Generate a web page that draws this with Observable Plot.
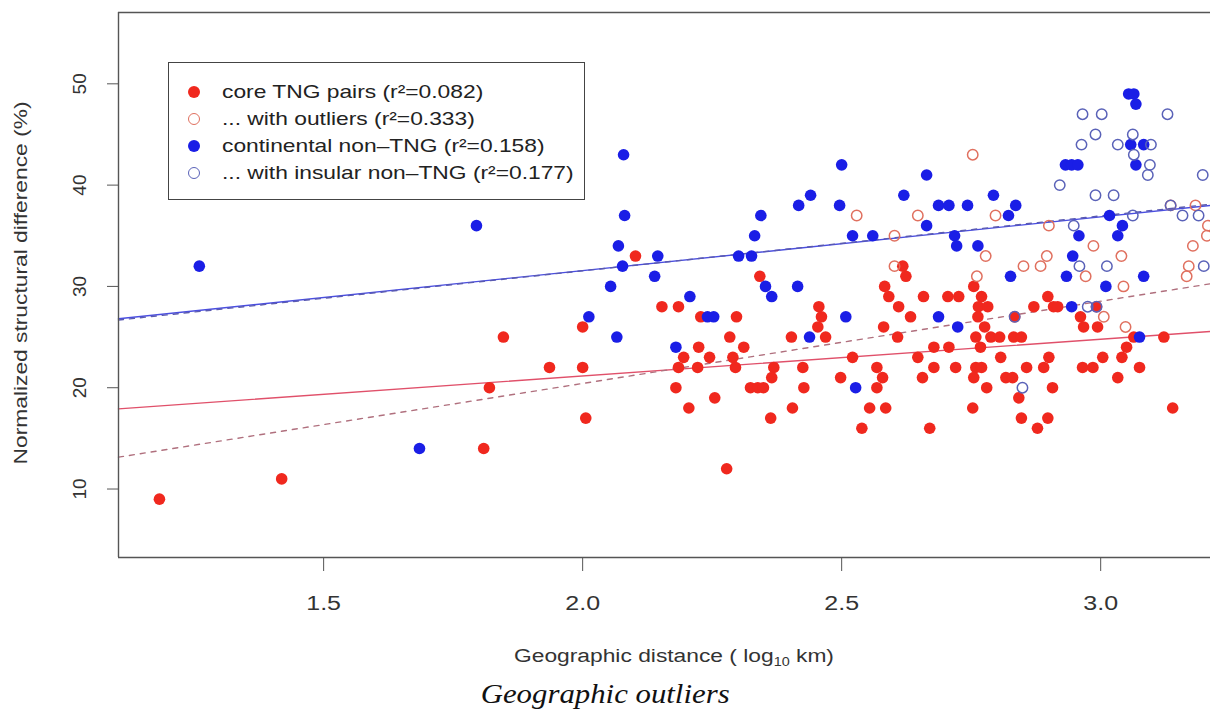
<!DOCTYPE html>
<html><head><meta charset="utf-8">
<script src="https://cdn.jsdelivr.net/npm/d3@7"></script>
<script src="https://cdn.jsdelivr.net/npm/@observablehq/plot@0.6"></script>
<style>
body{margin:0;background:#fff;font-family:"Liberation Sans",Arial,sans-serif}
#wrap{position:relative;width:1210px;height:675px}
#legend{position:absolute;left:168px;top:62px;width:417px;height:138px;border:1.3px solid #444;box-sizing:border-box;background:#fff}
.row{position:absolute;left:0;height:26px;line-height:26px;font-size:19px;color:#222;white-space:nowrap}
.sym{position:absolute;left:19px;top:7px;width:12px;height:12px;border-radius:50%;box-sizing:border-box}
.lab{position:absolute;left:53px;top:0;transform:scaleX(1.2);transform-origin:left center}
#caption{width:1210px;height:38px;line-height:38px;text-align:center;font-family:"Liberation Serif","Times New Roman",serif;font-style:italic;font-size:28px;color:#111}
#caption span{display:inline-block;transform:scaleX(1.1)}
</style></head>
<body>
<div id="wrap"></div>
<div id="caption"><span>Geographic outliers</span></div>
<script>
// ---- data (x = log10 km, y = normalized structural difference %) ----
const coreTNG = [
[1.183,9],[1.419,11],[1.809,14],[1.820,20],[1.847,25],[1.936,22],[2.000,26],[2.000,22],[2.006,17],
[2.102,33],[2.153,28],[2.185,28],[2.228,27],[2.297,27],[2.284,25],[2.311,24],[2.224,24],[2.195,23],
[2.245,23],[2.290,23],[2.185,22],[2.222,22],[2.295,22],[2.369,22],[2.365,21],[2.180,20],[2.324,20],
[2.338,20],[2.349,20],[2.255,19],[2.205,18],[2.363,17],[2.278,12],[2.342,31],[2.456,28],[2.461,27],
[2.454,26],[2.403,25],[2.469,25],[2.583,30],[2.591,29],[2.610,28],[2.633,27],[2.581,26],[2.608,25],
[2.658,29],[2.705,29],[2.726,29],[2.618,32],[2.624,31],[2.678,24],[2.707,24],[2.521,23],[2.647,23],
[2.425,22],[2.427,20],[2.405,18],[2.498,21],[2.568,22],[2.579,21],[2.568,20],[2.554,18],[2.585,18],
[2.539,16],[2.678,22],[2.656,21],[2.720,22],[2.759,22],[2.770,22],[2.755,21],[2.780,20],[2.753,18],
[2.670,16],[2.755,30],[2.770,29],[2.764,28],[2.782,28],[2.763,27],[2.776,26],[2.759,25],[2.788,25],
[2.805,25],[2.768,24],[2.832,25],[2.847,25],[2.807,23],[2.900,23],[2.890,22],[2.857,22],[2.817,21],
[2.830,21],[2.907,20],[2.842,19],[2.847,17],[2.898,17],[2.878,16],[3.004,23],[3.041,23],[2.965,22],
[2.985,22],[3.075,22],[3.033,21],[3.139,18],[3.050,24],[3.064,25],[3.122,25],[2.898,29],[2.871,28],
[2.909,28],[2.917,28],[2.961,27],[2.967,26],[2.994,26],[2.992,28],[2.834,27]
];
const coreOutliers = [
[2.753,43],[2.529,37],[2.647,37],[2.602,35],[2.778,33],[2.602,32],[2.761,31],[2.797,37],[2.900,36],
[2.986,34],[3.040,33],[3.178,34],[2.896,33],[2.884,32],[2.851,32],[3.170,32],[2.971,31],[3.166,31],
[3.044,30],[3.006,27],[3.048,26],[3.135,38],[3.183,38],[3.207,36],[3.205,35]
];
const continental = [
[1.260,32],[1.685,14],[1.795,36],[2.012,27],[2.079,43],[2.081,37],[2.069,34],[2.145,33],[2.077,32],
[2.301,33],[2.326,33],[2.344,37],[2.332,35],[2.139,31],[2.054,30],[2.066,25],[2.353,30],[2.365,29],
[2.207,29],[2.241,27],[2.253,27],[2.180,24],[2.415,30],[2.508,27],[2.438,25],[2.527,20],[2.687,27],
[2.724,26],[2.500,42],[2.664,41],[2.440,39],[2.417,38],[2.496,38],[2.620,39],[2.687,38],[2.707,38],
[2.743,38],[2.664,36],[2.521,35],[2.560,35],[2.718,35],[2.722,34],[2.763,34],[2.826,31],[2.934,31],
[3.083,31],[3.010,30],[2.944,28],[3.075,25],[3.054,49],[3.064,49],[3.068,48],[3.058,44],[3.083,44],
[3.068,42],[2.932,42],[2.944,42],[2.956,42],[2.793,39],[2.836,38],[2.822,37],[3.017,37],[3.042,36],
[3.033,35],[2.958,35],[2.946,33]
];
const insular = [
[2.965,47],[3.002,47],[3.129,47],[2.990,45],[3.062,45],[2.963,44],[3.033,44],[3.097,44],[3.064,43],
[3.095,42],[3.091,41],[3.197,41],[2.921,40],[2.990,39],[3.025,39],[3.062,37],[3.135,38],[3.158,37],
[3.189,37],[2.948,36],[2.959,32],[3.012,32],[3.199,32],[2.975,28],[2.849,20],[2.834,27],[2.992,28]
];
// legend labels
const seriesNames = [
  "core TNG pairs (r\u00b2=0.082)",
  "... with outliers (r\u00b2=0.333)",
  "continental non\u2013TNG (r\u00b2=0.158)",
  "... with insular non\u2013TNG (r\u00b2=0.177)"
];
// regression fits: y = intercept + slope * x
const fitNames      = ["core", "outliers", "continental", "insular"];
const fitIntercepts = [13.92, 4.18, 20.94, 20.70];
const fitSlopes     = [3.62, 8.12, 5.31, 5.42];
// axis ticks & domain
const xTicks = [1.5, 2.0, 2.5, 3.0];
const yTicks = [10, 20, 30, 40, 50];
const xDomain = [1.104, 3.212];
const yDomain = [3.24, 57.04];

// ---- styles ----
const RED = "#f0281e", BLUE = "#1a1ee6";
const RED_OPEN = "#e0705f", BLUE_OPEN = "#5a62b8";
const fitStyle = {
  core:        {stroke: "#e0506a", dash: null},
  outliers:    {stroke: "#b0707e", dash: "5,6"},
  continental: {stroke: "#4a4ee0", dash: null},
  insular:     {stroke: "#5a5ab0", dash: "5,6"}
};

const fitLines = fitNames.flatMap((n, i) => xDomain.map(x => ({name: n, x, y: fitIntercepts[i] + fitSlopes[i] * x})));
const pt = arr => arr.map(([x, y]) => ({x, y}));

const plot = Plot.plot({
  width: 1210, height: 675,
  marginLeft: 118, marginRight: 0, marginTop: 12, marginBottom: 118,
  x: {domain: xDomain},
  y: {domain: yDomain},
  style: {fontFamily: "'Liberation Sans', Arial, sans-serif", color: "#333", background: "#fff"},
  marks: [
    ...fitNames.map(n => Plot.line(fitLines.filter(d => d.name === n), {
      x: "x", y: "y", stroke: fitStyle[n].stroke, strokeWidth: 1.4, strokeDasharray: fitStyle[n].dash
    })),
    Plot.dot(pt(coreTNG), {x: "x", y: "y", r: 5.8, fill: RED, stroke: "none"}),
    Plot.dot(pt(coreOutliers), {x: "x", y: "y", r: 5.2, fill: "none", stroke: RED_OPEN, strokeWidth: 1.5}),
    Plot.dot(pt(continental), {x: "x", y: "y", r: 5.8, fill: BLUE, stroke: "none"}),
    Plot.dot(pt(insular), {x: "x", y: "y", r: 5.2, fill: "none", stroke: BLUE_OPEN, strokeWidth: 1.5}),
    Plot.ruleX([xDomain[0]], {stroke: "#555", strokeWidth: 1.4}),
    Plot.ruleY([yDomain[0], yDomain[1]], {stroke: "#555", strokeWidth: 1.4}),
    Plot.axisX({ticks: xTicks, tickFormat: d3.format(".1f"), tickSize: 14, tickPadding: 24, fontSize: 20, label: null, stroke: "#555"}),
    Plot.axisY({ticks: yTicks, tickSize: 11, tickPadding: 22, tickRotate: -90, fontSize: 19, label: null, stroke: "#555"})
  ]
});
document.getElementById("wrap").appendChild(plot);

const svg = d3.select(plot);
// widen x tick labels to match the reference's stretched glyphs
svg.selectAll('[aria-label="x-axis tick label"] text').each(function() {
  const t = this.getAttribute("transform") || "";
  this.setAttribute("transform", t + " scale(1.25,1)");
});

// axis titles
const xt = svg.append("text").attr("transform", "translate(674,662) scale(1.2,1)").attr("text-anchor", "middle")
  .attr("font-size", 19).attr("fill", "#333");
xt.append("tspan").text("Geographic distance ( log");
xt.append("tspan").attr("font-size", 12).attr("dy", 4).text("10");
xt.append("tspan").attr("dy", -4).text(" km)");
svg.append("text").attr("transform", "translate(27,283) rotate(-90) scale(1.2,1)").attr("text-anchor", "middle")
  .attr("font-size", 19).attr("fill", "#333").text("Normalized structural difference (%)");

// legend
const legendSyms = [
  {fill: RED, stroke: "none"},
  {fill: "none", stroke: RED_OPEN},
  {fill: BLUE, stroke: "none"},
  {fill: "none", stroke: BLUE_OPEN}
];
const leg = document.createElement("div");
leg.id = "legend";
seriesNames.forEach((name, i) => {
  const row = document.createElement("div");
  row.className = "row";
  row.style.top = (16 + i * 27) + "px";
  row.style.width = "100%";
  const s = document.createElement("span");
  s.className = "sym";
  const sy = legendSyms[i];
  if (sy.fill !== "none") s.style.background = sy.fill;
  else s.style.border = "1.5px solid " + sy.stroke;
  const t = document.createElement("span");
  t.className = "lab";
  t.textContent = name;
  row.appendChild(s); row.appendChild(t);
  leg.appendChild(row);
});
document.getElementById("wrap").appendChild(leg);
</script>
</body></html>
